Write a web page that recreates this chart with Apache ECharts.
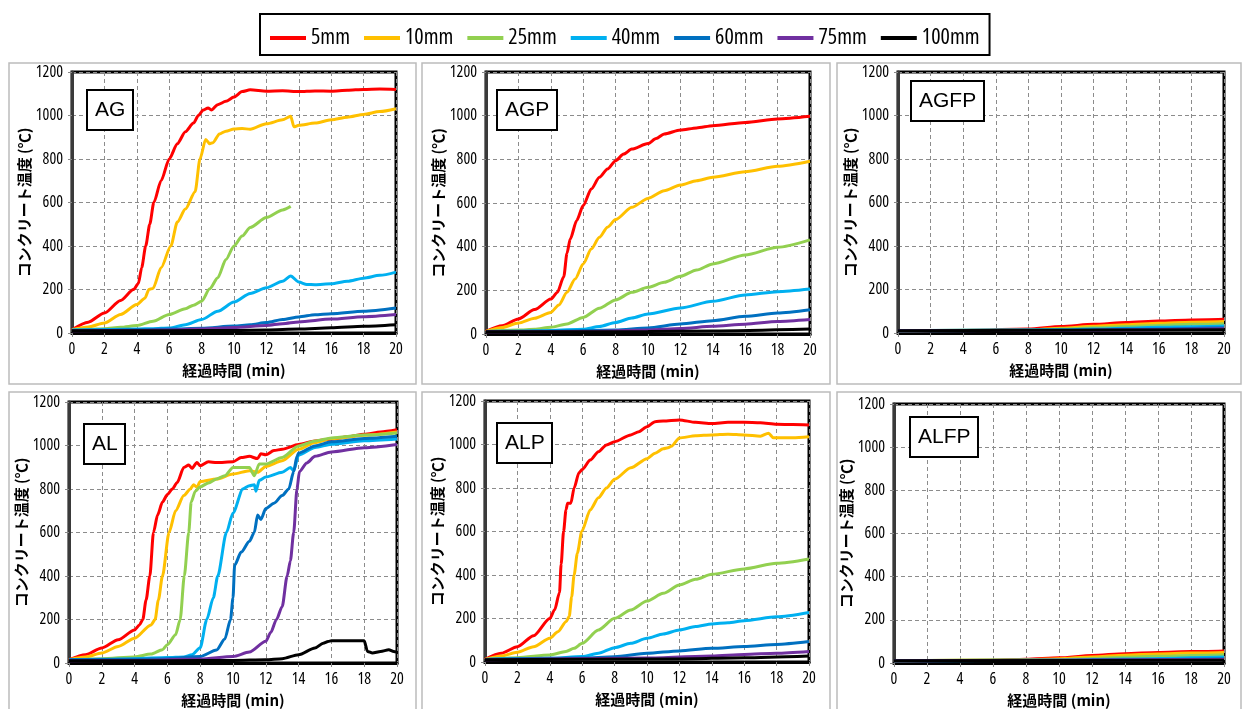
<!DOCTYPE html>
<html>
<head>
<meta charset="utf-8">
<title>コンクリート温度</title>
<script src="https://cdn.jsdelivr.net/npm/echarts@6/dist/echarts.min.js"></script>
<style>
  html, body { margin: 0; padding: 0; background: #fff; }
  #chart { width: 1242px; height: 709px; }
</style>
</head>
<body>
<div id="chart"></div>
<script>
// depth names (legend) and line colours
const DEPTHS = ['5mm', '10mm', '25mm', '40mm', '60mm', '75mm', '100mm'];
const COLORS = ['#FF0000', '#FFC000', '#92D050', '#00B0F0', '#0070C0', '#7030A0', '#000000'];
const PANEL_NAMES = ['AG', 'AGP', 'AGFP', 'AL', 'ALP', 'ALFP'];
const X_TICKS = { min: 0, max: 20, interval: 2 };
const Y_TICKS = { min: 0, max: 1200, interval: 200 };

// [elapsed time (min), concrete temperature (°C)]
// ---- AG ----
const AG_5 = [[0,15],[1,50],[2,92],[3,150],[3.8,200],[4.1,228],[4.3,300],[4.55,400],[4.8,500],[5.05,600],[5.5,700],[6,800],[6.5,870],[7,925],[7.5,965],[7.8,1000],[8.1,1025],[8.4,1035],[8.6,1025],[9,1050],[9.5,1065],[10,1085],[10.5,1110],[11,1118],[12,1112],[13,1114],[14,1110],[15,1113],[16,1112],[17,1116],[18,1120],[19,1122],[20,1120]];
const AG_10 = [[0,15],[1,28],[2,46],[3,85],[4,131],[4.5,160],[4.75,200],[5,205],[5.5,300],[6.1,400],[6.5,510],[7,570],[7.6,650],[7.9,800],[8.25,890],[8.5,870],[8.7,875],[9.1,915],[9.5,928],[10,938],[10.5,940],[11,937],[12,962],[13,980],[13.5,997],[13.7,948],[14,955],[15,965],[16,980],[17,992],[18,1005],[19,1018],[20,1031]];
const AG_25 = [[0,15],[1,17],[2,20],[3,26],[4,34],[5,54],[6,85],[7,112],[7.5,128],[8,146],[8.5,203],[9,254],[9.5,338],[10,400],[10.5,446],[11,485],[12,531],[13,566],[13.5,582]];
const AG_40 = [[0,14],[2,16],[4,18],[5,20],[6,23],[7,38],[8,62],[9,100],[10,142],[11,182],[12,208],[13,238],[13.5,262],[14,234],[14.5,223],[15,222],[16,226],[17,238],[18,252],[19,265],[20,280]];
const AG_60 = [[0,12],[2,13],[4,15],[6,18],[8,22],[10,32],[11,38],[12,48],[13,62],[14,74],[15,84],[16,89],[18,100],[20,115]];
const AG_75 = [[0,10],[4,12],[6,14],[8,18],[10,25],[12,35],[13,43],[14,51],[16,64],[18,75],[20,85]];
const AG_100 = [[0,10],[6,10],[10,12],[12,14],[14,18],[16,24],[18,31],[20,38]];

// ---- AGP ----
const AGP_5 = [[0,12],[1,38],[2,69],[3,112],[4,160],[4.4,190],[4.8,262],[5,370],[5.2,435],[5.6,520],[6,588],[6.5,664],[7,718],[7.5,756],[8,794],[8.5,824],[9,847],[10,872],[10.5,895],[11,916],[12,934],[13,944],[14,954],[16,969],[18,985],[20,997]];
const AGP_10 = [[0,12],[1,30],[2,50],[3,72],[4,99],[4.5,133],[5,191],[5.5,252],[6,321],[6.5,389],[7,443],[7.5,489],[8,524],[9,580],[10,621],[11,656],[12,682],[13,702],[14,718],[16,743],[18,768],[20,791]];
const AGP_25 = [[0,12],[2,18],[3,22],[4,31],[5,46],[6,76],[7,118],[8,156],[9,191],[10,214],[11,237],[12,264],[13,293],[14,321],[16,362],[18,397],[20,431]];
const AGP_40 = [[0,12],[2,13],[4,16],[6,22],[7,34],[8,53],[9,73],[10,92],[12,119],[14,150],[16,179],[18,194],[20,206]];
const AGP_60 = [[0,12],[4,13],[8,18],[10,28],[12,46],[14,61],[16,81],[18,96],[20,111]];
const AGP_75 = [[0,10],[6,11],[10,18],[12,25],[14,35],[16,45],[18,57],[20,66]];
const AGP_100 = [[0,10],[10,11],[14,14],[20,23]];

// ---- AGFP ----
const AGFP_5 = [[0,10],[4,12],[8,18],[10,30],[12,40],[14,48],[16,55],[18,60],[20,63]];
const AGFP_10 = [[0,10],[8,14],[10,22],[12,31],[14,38],[16,45],[18,50],[20,53]];
const AGFP_25 = [[0,10],[8,12],[10,18],[12,24],[14,30],[16,35],[18,40],[20,43]];
const AGFP_40 = [[0,10],[10,15],[12,18],[14,22],[16,26],[18,29],[20,32]];
const AGFP_60 = [[0,10],[10,13],[14,17],[20,24]];
const AGFP_75 = [[0,10],[12,13],[20,20]];
const AGFP_100 = [[0,10],[20,15]];

// ---- AL ----
const AL_5 = [[0,15],[1,38],[2,69],[3,107],[4,152],[4.3,175],[4.5,200],[4.7,290],[4.93,400],[5.15,600],[5.4,680],[5.7,740],[6,775],[6.3,800],[6.6,830],[7,899],[7.3,910],[7.5,895],[7.8,922],[8,907],[8.5,925],[9,922],[10,925],[10.5,945],[11,950],[11.5,940],[11.7,962],[12,957],[12.5,977],[13,983],[14,1005],[15,1021],[16,1029],[17,1040],[18,1052],[19,1062],[20,1072]];
const AL_10 = [[0,15],[1,28],[2,46],[3,76],[4,114],[5,175],[5.25,200],[5.45,290],[5.7,400],[6.1,600],[6.5,700],[7,770],[7.4,800],[7.6,820],[7.8,808],[8,834],[9,846],[10,869],[11,884],[11.5,877],[12,904],[13,930],[14,983],[15,1014],[16,1032],[18,1047],[20,1062]];
const AL_25 = [[0,15],[2,20],[4,28],[5,41],[5.7,61],[6,84],[6.5,130],[6.78,200],[7.03,400],[7.3,600],[7.45,740],[7.7,790],[8,810],[8.5,828],[9,846],[9.5,861],[10,899],[11,899],[11.3,861],[11.6,915],[12,915],[13,945],[14,998],[15,1021],[16,1035],[18,1048],[20,1058]];
const AL_40 = [[0,15],[2,17],[4,20],[6,25],[7,28],[7.5,38],[8,70],[8.4,200],[8.8,300],[9.07,400],[9.6,600],[10,690],[10.6,800],[11,815],[11.3,820],[11.4,790],[11.6,840],[12,855],[13,877],[13.5,899],[13.7,884],[14,956],[15,991],[16,1006],[18,1022],[20,1030]];
const AL_60 = [[0,15],[4,17],[6,20],[8,30],[9,60],[9.5,110],[9.85,200],[10,300],[10.1,450],[10.5,510],[11,560],[11.3,600],[11.5,680],[11.7,660],[12,710],[12.5,735],[13,770],[13.4,800],[13.7,880],[13.9,950],[14,965],[15,998],[16,1017],[18,1032],[20,1042]];
const AL_75 = [[0,10],[4,12],[8,18],[10,30],[11,50],[12,100],[12.3,140],[12.65,200],[13,260],[13.3,400],[13.5,470],[13.7,600],[13.9,800],[14.05,880],[14.5,920],[15,950],[16,970],[18,990],[20,1005]];
const AL_100 = [[0,10],[6,10],[10,12],[12,15],[13,20],[14,38],[15,69],[15.5,91],[15.8,99],[16,102],[17,102],[18,102],[18.2,53],[18.5,46],[19,53],[19.5,61],[19.8,53],[20,50]];

// ---- ALP ----
const ALP_5 = [[0,12],[1,40],[2,70],[3,121],[4,200],[4.3,240],[4.6,320],[4.7,450],[4.85,600],[5,700],[5.1,730],[5.3,730],[5.5,800],[5.8,870],[6,885],[6.5,929],[7,967],[7.5,998],[8,1013],[9,1044],[9.5,1059],[10,1082],[10.5,1105],[11,1108],[12,1113],[13,1102],[14,1096],[15,1102],[16,1102],[17,1100],[18,1093],[19,1092],[20,1090]];
const ALP_10 = [[0,12],[1,28],[2,45],[3,70],[4,109],[4.5,139],[5,185],[5.2,210],[5.35,300],[5.5,400],[5.7,500],[5.97,600],[6.5,700],[7,755],[7.5,800],[8,840],[9,893],[10,935],[10.5,960],[11,980],[11.3,985],[11.5,992],[12,1030],[13,1040],[14,1044],[15,1047],[16,1044],[17,1038],[17.5,1052],[17.8,1031],[18,1031],[19,1031],[20,1036]];
const ALP_25 = [[0,12],[2,20],[4,32],[5,48],[5.5,63],[6,86],[7,147],[8,201],[9,239],[10,280],[11,316],[12,354],[13,380],[14,403],[16,428],[18,454],[20,474]];
const ALP_40 = [[0,12],[4,17],[6,25],[7,40],[8,66],[9,86],[10,109],[11,129],[12,147],[13,163],[14,175],[15,181],[16,190],[18,208],[20,228]];
const ALP_60 = [[0,12],[6,18],[8,24],[10,40],[12,51],[14,63],[16,71],[18,81],[20,94]];
const ALP_75 = [[0,10],[10,18],[14,28],[16,35],[18,40],[20,48]];
const ALP_100 = [[0,10],[12,14],[16,20],[20,28]];

// ---- ALFP ----
const ALFP_5 = [[0,10],[6,12],[8,17],[10,24],[12,35],[14,43],[16,49],[18,53],[20,56]];
const ALFP_10 = [[0,10],[8,14],[10,20],[12,28],[14,36],[16,42],[18,46],[20,49]];
const ALFP_25 = [[0,10],[10,16],[12,21],[14,27],[16,31],[18,35],[20,38]];
const ALFP_40 = [[0,10],[10,13],[14,19],[20,28]];
const ALFP_60 = [[0,10],[12,13],[20,20]];
const ALFP_75 = [[0,10],[20,16]];
const ALFP_100 = [[0,10],[20,13]];

const PANEL_SERIES = [
  [AG_5, AG_10, AG_25, AG_40, AG_60, AG_75, AG_100],
  [AGP_5, AGP_10, AGP_25, AGP_40, AGP_60, AGP_75, AGP_100],
  [AGFP_5, AGFP_10, AGFP_25, AGFP_40, AGFP_60, AGFP_75, AGFP_100],
  [AL_5, AL_10, AL_25, AL_40, AL_60, AL_75, AL_100],
  [ALP_5, ALP_10, ALP_25, ALP_40, ALP_60, ALP_75, ALP_100],
  [ALFP_5, ALFP_10, ALFP_25, ALFP_40, ALFP_60, ALFP_75, ALFP_100]
];

// page layout: plot rectangles, specimen tag boxes and outer frames
const LAYOUT = [
  { grid: { left: 72,  top: 72,  width: 324, height: 261 }, tag: { left: 87,  top: 90 },  frame: [9, 63, 407, 321] },
  { grid: { left: 486, top: 72,  width: 324, height: 262 }, tag: { left: 497, top: 90 },  frame: [422, 63, 408, 321] },
  { grid: { left: 898, top: 72,  width: 326, height: 261 }, tag: { left: 911, top: 81 },  frame: [837, 63, 404, 321] },
  { grid: { left: 69,  top: 402, width: 328, height: 262 }, tag: { left: 84,  top: 424 }, frame: [9, 392, 407, 330] },
  { grid: { left: 485, top: 401, width: 324, height: 261 }, tag: { left: 497, top: 423 }, frame: [422, 392, 408, 330] },
  { grid: { left: 894, top: 404, width: 330, height: 263 }, tag: { left: 910, top: 417 }, frame: [837, 392, 404, 330] }
];

// narrow numerals: Open Sans at its condensed width (fontStyle slot of the canvas font shorthand)
const NARROW = { fontFamily: '"Open Sans", sans-serif', fontStyle: 'condensed' };
const JP = '"Noto Sans CJK JP", sans-serif';

const grids = [], xAxes = [], yAxes = [], titles = [], series = [], graphics = [];

LAYOUT.forEach((lay, i) => {
  grids.push(Object.assign({
    show: true, borderColor: '#000', borderWidth: 3, backgroundColor: '#fff', containLabel: false
  }, lay.grid));

  xAxes.push({
    type: 'value', gridIndex: i, min: X_TICKS.min, max: X_TICKS.max, interval: X_TICKS.interval,
    name: '経過時間 (min)', nameLocation: 'middle', nameGap: 30,
    nameTextStyle: { fontFamily: JP, fontWeight: 'bold', fontSize: 15, color: '#000' },
    axisLine: { show: true, onZero: false, lineStyle: { color: '#000', width: 3 } },
    axisTick: { show: true, length: 4, lineStyle: { color: '#888' } },
    axisLabel: Object.assign({ fontSize: 16, color: '#000', margin: 8, formatter: v => String(v) }, NARROW),
    splitLine: { show: true, lineStyle: { color: '#8c8c8c', type: [4, 3], width: 1 } }
  });

  yAxes.push({
    type: 'value', gridIndex: i, min: Y_TICKS.min, max: Y_TICKS.max, interval: Y_TICKS.interval,
    name: 'コンクリート温度 (℃)', nameLocation: 'middle', nameGap: 38, nameRotate: 90,
    nameTextStyle: { fontFamily: JP, fontWeight: 'bold', fontSize: 15, color: '#000' },
    axisLine: { show: true, lineStyle: { color: '#3a3a3a', width: 3 } },
    axisTick: { show: true, length: 4, lineStyle: { color: '#888' } },
    axisLabel: Object.assign({ fontSize: 16, color: '#000', margin: 9, formatter: v => String(v) }, NARROW),
    splitLine: { show: true, lineStyle: { color: '#8c8c8c', type: [4, 3], width: 1 } }
  });

  titles.push({
    text: PANEL_NAMES[i], left: lay.tag.left, top: lay.tag.top,
    borderColor: '#000', borderWidth: 2, backgroundColor: '#fff',
    padding: [8, 8, 8, 8],
    textStyle: { fontFamily: '"Liberation Sans", Arial, sans-serif', fontWeight: 'normal', fontSize: 21, lineHeight: 24, color: '#000' }
  });

  graphics.push({
    type: 'rect', z: -10, silent: true,
    shape: { x: lay.frame[0], y: lay.frame[1], width: lay.frame[2], height: lay.frame[3] },
    style: { fill: '#fff', stroke: '#bcbcbc', lineWidth: 1.5 }
  });

  PANEL_SERIES[i].forEach((data, k) => {
    series.push({
      type: 'line', name: DEPTHS[k], xAxisIndex: i, yAxisIndex: i,
      data: data, color: COLORS[k],
      symbol: 'none', showSymbol: false,
      smooth: 0.25, smoothMonotone: 'x',
      lineStyle: { width: 3, color: COLORS[k] },
      clip: true, z: 3
    });
  });
});

const chart = echarts.init(document.getElementById('chart'), null, { renderer: 'canvas' });
chart.setOption({
  animation: false,
  backgroundColor: '#fff',
  title: titles,
  legend: {
    data: DEPTHS, left: 260, top: 14,
    orient: 'horizontal', icon: 'rect', itemWidth: 36, itemHeight: 4, itemGap: 14,
    borderColor: '#000', borderWidth: 2, backgroundColor: '#fff',
    padding: [12, 10, 5, 10],
    selectedMode: false,
    textStyle: Object.assign({ fontSize: 22, lineHeight: 24, color: '#000' }, NARROW)
  },
  graphic: graphics,
  grid: grids,
  xAxis: xAxes,
  yAxis: yAxes,
  series: series
});
</script>
</body>
</html>
